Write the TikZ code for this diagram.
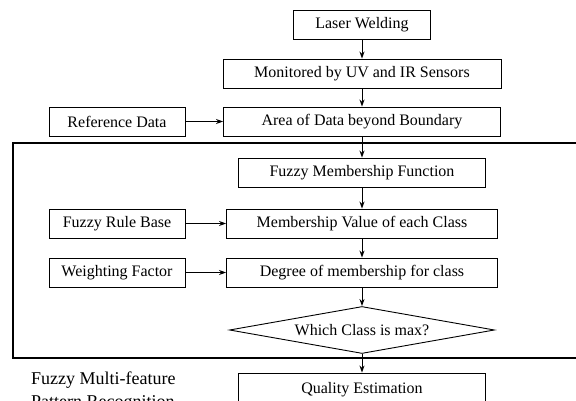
\documentclass[tikz,border=0pt]{standalone}
\usepackage{fontspec}
\setmainfont{Liberation Serif}
\usetikzlibrary{arrows.meta,shapes.geometric}
\begin{document}
\begin{tikzpicture}[x=1pt,y=-1pt,
  box/.style={draw, line width=0.9pt, rectangle, inner sep=0pt, minimum height=29pt, font=\fontsize{16}{18}\selectfont},
  dia/.style={draw, line width=0.9pt, diamond, inner sep=0pt, aspect=5.6, minimum width=265pt, minimum height=47pt, font=\fontsize{16}{18}\selectfont},
  arr/.style={line width=0.9pt, -{Stealth[length=7pt,width=5pt]}},
  frame/.style={line width=1.4pt},
  lbl/.style={font=\fontsize{18}{22}\selectfont, inner sep=0pt, anchor=base west}]
\useasboundingbox (0,0) rectangle (576,401);
\clip (0,0) rectangle (576,401);
\fill[white] (0,0) rectangle (576,401);
% frame
\draw[frame] (600,143) -- (13,143) -- (13,358) -- (600,358);
% main column
\node[box, minimum width=137pt] (laser) at (362,24.5) {Laser Welding};
\node[box, minimum width=278pt] (mon) at (362,73.5) {Monitored by UV and IR Sensors};
\node[box, minimum width=277pt] (area) at (362,121.5) {Area of Data beyond Boundary};
\node[box, minimum width=247pt] (fmf) at (362,172.5) {Fuzzy Membership Function};
\node[box, minimum width=271pt] (mv) at (362,223.5) {Membership Value of each Class};
\node[box, minimum width=271pt] (deg) at (362,272.5) {Degree of membership for class};
\node[dia] (max) at (362,330) {Which Class is max?};
\node[box, minimum width=247pt, minimum height=34pt] (qe) at (362,390) {Quality Estimation};
% side boxes
\node[box, minimum width=136pt] (ref) at (117,121.5) {Reference Data};
\node[box, minimum width=136pt] (frb) at (117,223.5) {Fuzzy Rule Base};
\node[box, minimum width=136pt] (wf) at (117,272.5) {Weighting Factor};
% connectors
\draw[arr] (laser) -- (mon);
\draw[arr] (mon) -- (area);
\draw[arr] (area) -- (fmf);
\draw[arr] (fmf) -- (mv);
\draw[arr] (mv) -- (deg);
\draw[arr] (deg) -- (max);
\draw[arr] (max) -- (qe);
\draw[arr] (ref) -- (area);
\draw[arr] (frb) -- (mv);
\draw[arr] (wf) -- (deg);
% label
\node[lbl] (l1) at (31,384) {Fuzzy Multi-feature};
\node[lbl] (l2) at (31,407) {Pattern Recognition};
\end{tikzpicture}
\end{document}
